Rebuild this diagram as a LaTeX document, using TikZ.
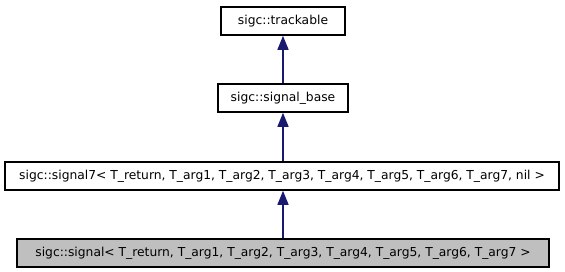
\documentclass[tikz,border=0pt]{standalone}
\usepackage{fontspec}
\setmainfont{DejaVu Sans}
\usetikzlibrary{arrows.meta}
\definecolor{edgeblue}{HTML}{191970}
\definecolor{curgray}{HTML}{BFBFBF}
\begin{document}
\begin{tikzpicture}[x=1pt,y=-1pt,
  cls/.style={draw=black,line width=1.6pt,fill=white,rectangle,inner sep=0pt,
    minimum height=28pt,font=\fontsize{12.3}{14}\selectfont},
  cur/.style={cls,fill=curgray},
  inherit/.style={draw=edgeblue,line width=1.5pt,
    -{Triangle[length=14pt,width=11pt,fill=edgeblue]}}]
\useasboundingbox (0,0) rectangle (565,271);
\node[cls,minimum width=124pt] (trackable) at (283,21) {sigc::trackable};
\node[cls,minimum width=130pt] (base) at (283,98) {sigc::signal\_base};
\node[cls,minimum width=554pt] (sig7) at (282,176) {sigc::signal7< T\_return, T\_arg1, T\_arg2, T\_arg3, T\_arg4, T\_arg5, T\_arg6, T\_arg7, nil >};
\node[cur,minimum width=532pt] (sig) at (283,253) {sigc::signal< T\_return, T\_arg1, T\_arg2, T\_arg3, T\_arg4, T\_arg5, T\_arg6, T\_arg7 >};
\draw[inherit] (base.north -| 283,0) -- (trackable.south -| 283,0);
\draw[inherit] (sig7.north -| 283,0) -- (base.south -| 283,0);
\draw[inherit] (sig.north -| 283,0) -- (sig7.south -| 283,0);
\end{tikzpicture}
\end{document}
